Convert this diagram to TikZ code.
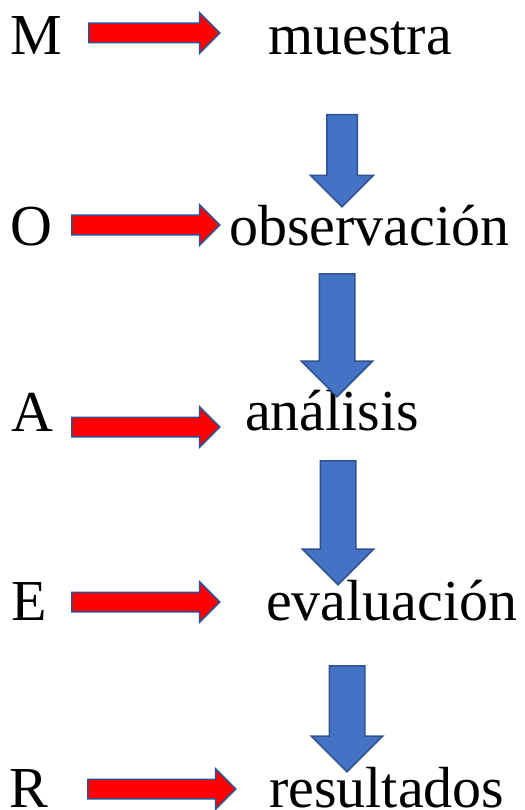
\documentclass[tikz,border=0pt]{standalone}
\usepackage{fontspec}
\setmainfont{Liberation Serif}
\usepackage{xcolor}
\usetikzlibrary{shapes.arrows}

\definecolor{arrowline}{HTML}{2F528F}
\definecolor{arrowblue}{HTML}{4472C4}

\begin{document}
\begin{tikzpicture}[x=1pt, y=-1pt,
    word/.style={anchor=base west, inner sep=0pt, font=\fontsize{58}{60}\selectfont},
    redarrow/.style={single arrow, draw=arrowline, fill=red, line width=1.5pt, inner sep=9pt, single arrow head extend=10.5pt, anchor=tail},
    bluearrow/.style={single arrow, draw=arrowline, fill=arrowblue, line width=1.5pt, inner sep=17pt, single arrow head extend=18pt, anchor=tail, rotate=-90}]
    \useasboundingbox (0,0) rectangle (524,810);

    % Define the letters and the words
    \node[word] (M) at (10,55) {M};
    \node[word] (muestra) at (268,55) {muestra};
    \node[word] (O) at (10,245) {O};
    \node[word] (observacion) at (229,245) {observación};
    \node[word] (A) at (11,431) {A};
    \node[word] (analisis) at (245,430) {análisis};
    \node[word] (E) at (11,620) {E};
    \node[word] (evaluacion) at (266,620) {evaluación};
    \node[word] (R) at (9,807) {R};
    \node[word] (resultados) at (269,807) {resultados};

    % Draw the red arrows from letter to word
    \node[redarrow, minimum height=131] (mm) at (88,33) {};
    \node[redarrow, minimum height=148] (oo) at (71,225) {};
    \node[redarrow, minimum height=148] (aa) at (71,427) {};
    \node[redarrow, minimum height=148] (ee) at (71,602) {};
    \node[redarrow, minimum height=148] (rr) at (87,789) {};

    % Draw the blue arrows between the words
    \node[bluearrow, minimum height=92, inner sep=14.5pt, single arrow head extend=16pt] (mo) at (342,114) {};
    \node[bluearrow, minimum height=123] (oa) at (337,273) {};
    \node[bluearrow, minimum height=124] (ae) at (338,460) {};
    \node[bluearrow, minimum height=106] (er) at (347,665) {};
\end{tikzpicture}
\end{document}
